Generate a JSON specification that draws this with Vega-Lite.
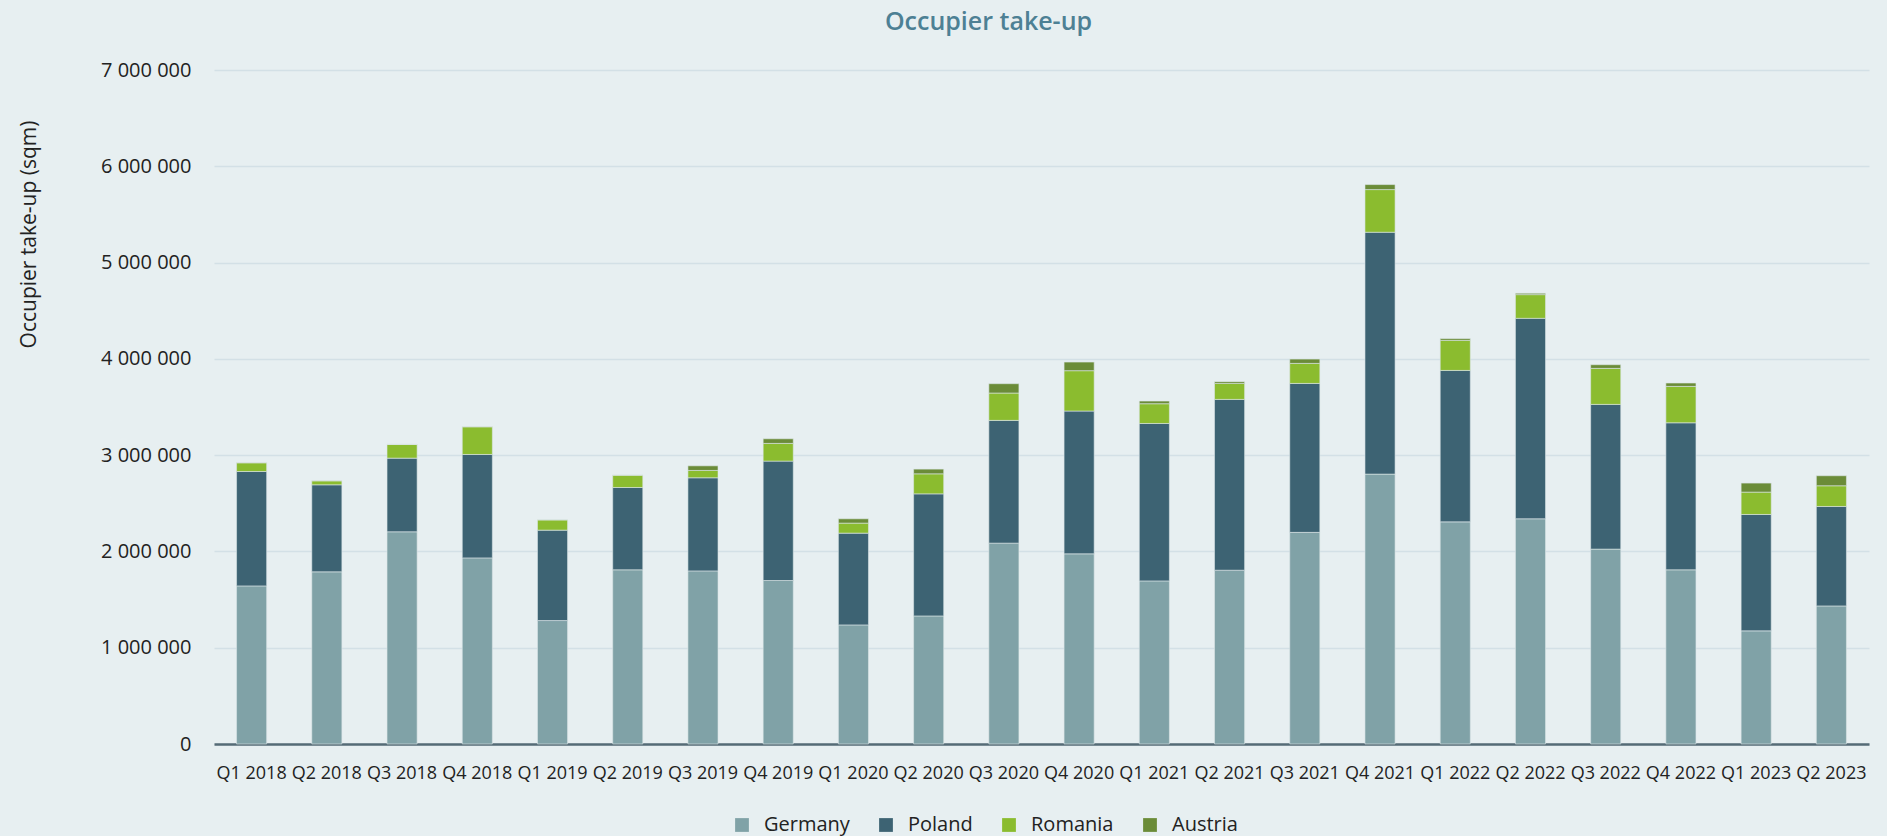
{
  "$schema": "https://vega.github.io/schema/vega-lite/v6.json",
  "width": 1655,
  "height": 674,
  "autosize": {"type": "none"},
  "padding": {"left": 214, "top": 70, "right": 18, "bottom": 92},
  "background": "#e7eff1",
  "title": {
    "text": "Occupier take-up",
    "anchor": "middle",
    "frame": "group",
    "dx": -53,
    "offset": 25,
    "font": "Open Sans",
    "fontSize": 25,
    "fontWeight": 600,
    "color": "#4d8094"
  },
  "data": {
    "values": [
      {"quarter": "Q1 2018", "Germany": 1642000, "Poland": 1188000, "Romania": 91000, "Austria": 0},
      {"quarter": "Q2 2018", "Germany": 1788000, "Poland": 904000, "Romania": 42000, "Austria": 0},
      {"quarter": "Q3 2018", "Germany": 2204000, "Poland": 765000, "Romania": 142000, "Austria": 0},
      {"quarter": "Q4 2018", "Germany": 1933000, "Poland": 1074000, "Romania": 288000, "Austria": 0},
      {"quarter": "Q1 2019", "Germany": 1282000, "Poland": 939000, "Romania": 107000, "Austria": 0},
      {"quarter": "Q2 2019", "Germany": 1809000, "Poland": 855000, "Romania": 128000, "Austria": 0},
      {"quarter": "Q3 2019", "Germany": 1798000, "Poland": 967000, "Romania": 76000, "Austria": 48000},
      {"quarter": "Q4 2019", "Germany": 1698000, "Poland": 1240000, "Romania": 184000, "Austria": 48000},
      {"quarter": "Q1 2020", "Germany": 1237000, "Poland": 953000, "Romania": 104000, "Austria": 45000},
      {"quarter": "Q2 2020", "Germany": 1330000, "Poland": 1268000, "Romania": 208000, "Austria": 49000},
      {"quarter": "Q3 2020", "Germany": 2086000, "Poland": 1275000, "Romania": 284000, "Austria": 97000},
      {"quarter": "Q4 2020", "Germany": 1975000, "Poland": 1483000, "Romania": 419000, "Austria": 90000},
      {"quarter": "Q1 2021", "Germany": 1694000, "Poland": 1635000, "Romania": 205000, "Austria": 28000},
      {"quarter": "Q2 2021", "Germany": 1805000, "Poland": 1774000, "Romania": 166000, "Austria": 18000},
      {"quarter": "Q3 2021", "Germany": 2198000, "Poland": 1547000, "Romania": 208000, "Austria": 45000},
      {"quarter": "Q4 2021", "Germany": 2803000, "Poland": 2512000, "Romania": 443000, "Austria": 52000},
      {"quarter": "Q1 2022", "Germany": 2307000, "Poland": 1573000, "Romania": 312000, "Austria": 18000},
      {"quarter": "Q2 2022", "Germany": 2339000, "Poland": 2082000, "Romania": 246000, "Austria": 14000},
      {"quarter": "Q3 2022", "Germany": 2024000, "Poland": 1503000, "Romania": 374000, "Austria": 38000},
      {"quarter": "Q4 2022", "Germany": 1809000, "Poland": 1527000, "Romania": 378000, "Austria": 35000},
      {"quarter": "Q1 2023", "Germany": 1175000, "Poland": 1209000, "Romania": 232000, "Austria": 94000},
      {"quarter": "Q2 2023", "Germany": 1434000, "Poland": 1033000, "Romania": 215000, "Austria": 104000}
    ]
  },
  "transform": [
    {"fold": ["Germany", "Poland", "Romania", "Austria"], "as": ["country", "value"]},
    {"window": [{"op": "row_number", "as": "stackIdx"}], "groupby": ["quarter"]}
  ],
  "mark": {"type": "bar", "stroke": "#dbe6e8", "strokeWidth": 0.6},
  "encoding": {
    "x": {
      "field": "quarter",
      "type": "ordinal",
      "sort": null,
      "scale": {"paddingInner": 0.6, "paddingOuter": 0.3},
      "axis": {
        "title": null,
        "labelAngle": 0,
        "labelFont": "Open Sans",
        "labelFontSize": 18,
        "labelColor": "#222222",
        "labelPadding": 20,
        "ticks": false,
        "tickSize": 0,
        "domainColor": "#556b76",
        "domainWidth": 2.5,
        "grid": false
      }
    },
    "y": {
      "field": "value",
      "type": "quantitative",
      "stack": "zero",
      "scale": {"domain": [0, 7000000], "nice": false},
      "axis": {
        "title": "Occupier take-up (sqm)",
        "titleFont": "Open Sans",
        "titleFontSize": 21,
        "titleFontWeight": "normal",
        "titleColor": "#222222",
        "titleAngle": -90,
        "titleAlign": "center",
        "titleBaseline": "middle",
        "titleX": -185,
        "titleY": 164,
        "values": [0, 1000000, 2000000, 3000000, 4000000, 5000000, 6000000, 7000000],
        "labelExpr": "replace(format(datum.value, ',d'), /,/g, ' ')",
        "labelFont": "Open Sans",
        "labelFontSize": 20,
        "labelColor": "#222222",
        "labelPadding": 23,
        "ticks": false,
        "tickSize": 0,
        "domain": false,
        "gridColor": "#d3e0e6",
        "gridWidth": 1.6
      }
    },
    "color": {
      "field": "country",
      "type": "nominal",
      "sort": ["Germany", "Poland", "Romania", "Austria"],
      "scale": {
        "domain": ["Germany", "Poland", "Romania", "Austria"],
        "range": ["#80a2a7", "#3d6373", "#8bbc2f", "#6b8c38"]
      },
      "legend": {
        "title": null,
        "orient": "none",
        "direction": "horizontal",
        "legendX": 518,
        "legendY": 745,
        "symbolType": "square",
        "symbolSize": 190,
        "symbolStrokeWidth": 0,
        "labelFont": "Open Sans",
        "labelFontSize": 20,
        "labelColor": "#222222",
        "labelOffset": 12,
        "columnPadding": 26
      }
    },
    "order": {"field": "stackIdx", "type": "quantitative", "sort": "ascending"}
  },
  "config": {
    "view": {"stroke": null}
  }
}
